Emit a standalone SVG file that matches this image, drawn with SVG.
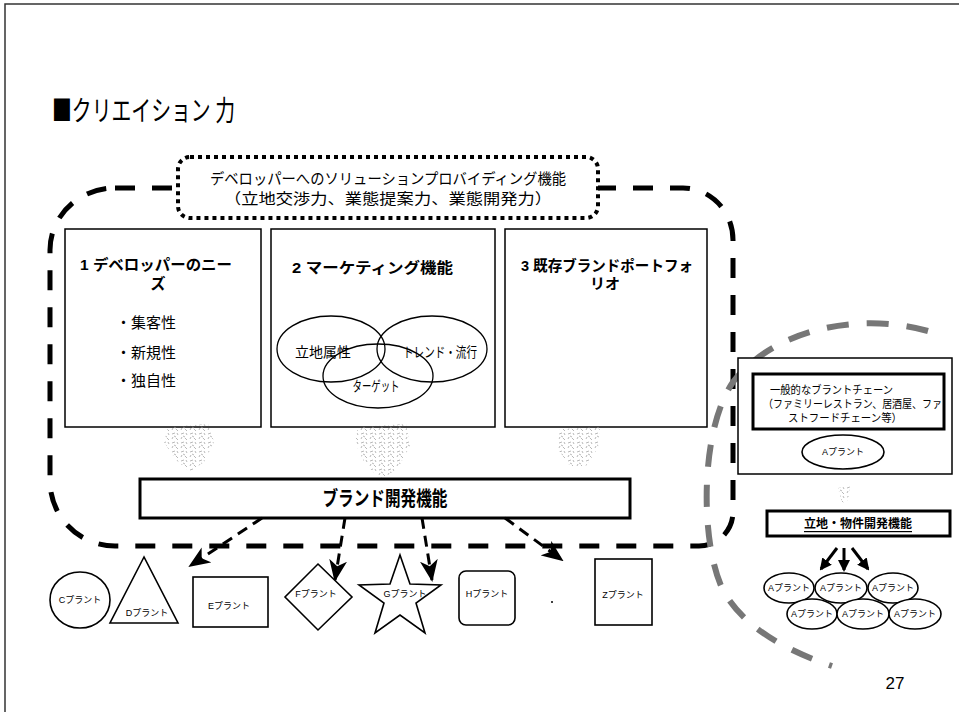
<svg xmlns="http://www.w3.org/2000/svg" width="959" height="723" viewBox="0 0 959 723">
<defs>
<style>
text{font-family:"Liberation Sans","Noto Sans CJK JP",sans-serif;fill:#000;dominant-baseline:central}
.t15{font-size:15px}
.hd{font-size:15px;font-weight:bold}
.sm{font-size:9px;text-anchor:middle}
.box{fill:#fff;stroke:#000;stroke-width:1.5}
.thick{fill:#fff;stroke:#000;stroke-width:3}
.shape{fill:#fff;stroke:#000;stroke-width:1.6}
.venn{fill:none;stroke:#000;stroke-width:1.3}
.dash{fill:none;stroke:#000;stroke-width:3;stroke-dasharray:11 7}
.scr{fill:url(#sp);stroke:none}
</style>
<pattern id="sp" width="9" height="9" patternUnits="userSpaceOnUse">
<path d="M1,2 l3,-1 M5,6 l2,2 M1,7 l1,-2 M6,1 l1,2 M3,4 l2,1" stroke="#999" stroke-width="0.7" fill="none"/>
</pattern>
<marker id="ah" viewBox="0 0 22 18" refX="20" refY="9" markerWidth="22" markerHeight="18" markerUnits="userSpaceOnUse" orient="auto">
<path d="M0,0 L22,9 L0,18 L6,9 Z" fill="#000"/>
</marker>
<marker id="ah2" viewBox="0 0 12 12" refX="10" refY="6" markerWidth="12" markerHeight="12" markerUnits="userSpaceOnUse" orient="auto">
<path d="M0,0 L12,6 L0,12 Z" fill="#000"/>
</marker>
</defs>
<rect width="959" height="723" fill="#fff"/>
<path d="M5,712 V4 H959" fill="none" stroke="#333" stroke-width="1.5"/>

<text x="52" y="109" style="font-size:28px;font-family:'Noto Sans CJK JP',sans-serif" textLength="183" lengthAdjust="spacingAndGlyphs">■クリエイション 力</text>

<g id="outer-group">
<path d="M115,188 H683 A50,52 0 0 1 733,240 V512 A34,34 0 0 1 699,546 H115 A65,65 0 0 1 50,481 V250 A65,62 0 0 1 115,188 Z" fill="none" stroke="#000" stroke-width="5" stroke-dasharray="20 17"/>
</g>

<g id="solution">
<rect x="178" y="157" width="420" height="61" rx="12" fill="#fff" stroke="#000" stroke-width="4" stroke-dasharray="4 4"/>
<text x="388" y="178" class="t15" text-anchor="middle" textLength="356" lengthAdjust="spacingAndGlyphs">デベロッパーへのソリューションプロバイディング機能</text>
<text x="388" y="198" class="t15" text-anchor="middle" textLength="328" lengthAdjust="spacingAndGlyphs">（立地交渉力、業態提案力、業態開発力）</text>
</g>

<g id="needs">
<rect x="65" y="229" width="196" height="198" class="box"/>
<text x="80" y="264" class="hd" textLength="152" lengthAdjust="spacingAndGlyphs">1  デベロッパーのニー</text>
<text x="158" y="283" class="hd" text-anchor="middle">ズ</text>
<text x="116" y="322" class="t15">・集客性</text>
<text x="116" y="352" class="t15">・新規性</text>
<text x="116" y="380" class="t15">・独自性</text>
</g>

<g id="marketing">
<rect x="271" y="229" width="224" height="198" class="box"/>
<text x="292" y="267" class="hd" textLength="161" lengthAdjust="spacingAndGlyphs">2  マーケティング機能</text>
<ellipse cx="331" cy="349" rx="54" ry="33" class="venn"/>
<ellipse cx="432" cy="349" rx="55" ry="33" class="venn"/>
<ellipse cx="378" cy="376" rx="55" ry="32" class="venn"/>
<text x="323" y="352" style="font-size:14px" text-anchor="middle">立地属性</text>
<text x="440" y="352" style="font-size:14px" text-anchor="middle" textLength="74" lengthAdjust="spacingAndGlyphs">トレンド・流行</text>
<text x="376" y="386" style="font-size:14px" text-anchor="middle" textLength="47" lengthAdjust="spacingAndGlyphs">ターゲット</text>
</g>

<g id="portfolio">
<rect x="505" y="229" width="202" height="198" class="box"/>
<text x="521" y="265" class="hd" textLength="172" lengthAdjust="spacingAndGlyphs">3  既存ブランドポートフォ</text>
<text x="605" y="283" class="hd" text-anchor="middle">リオ</text>
</g>

<g id="scribbles">
<path d="M168,427 L208,424 L214,442 L204,462 L190,472 L176,460 L164,442 Z" class="scr"/>
<path d="M358,427 L406,424 L410,446 L398,468 L381,480 L364,462 L355,442 Z" class="scr"/>
<path d="M560,429 L600,427 L598,448 L586,466 L570,466 L557,448 Z" class="scr"/>
<path d="M838,488 L850,486 L848,500 L842,503 Z" class="scr"/>
</g>

<g id="brand-dev">
<rect x="140" y="479" width="490" height="39" class="thick"/>
<text x="385" y="499" style="font-size:20px;font-weight:bold" text-anchor="middle" textLength="125" lengthAdjust="spacingAndGlyphs">ブランド開発機能</text>
</g>

<g id="connectors">
<line x1="262" y1="518" x2="190" y2="566" class="dash" marker-end="url(#ah)"/>
<line x1="345" y1="518" x2="335" y2="580" class="dash" marker-end="url(#ah)"/>
<line x1="422" y1="518" x2="432" y2="580" class="dash" marker-end="url(#ah)"/>
<line x1="505" y1="518" x2="562" y2="560" class="dash" marker-end="url(#ah)"/>
<line x1="837" y1="548" x2="821" y2="569" stroke="#000" stroke-width="3" marker-end="url(#ah2)"/>
<line x1="844" y1="548" x2="844" y2="570" stroke="#000" stroke-width="3" marker-end="url(#ah2)"/>
<line x1="852" y1="548" x2="868" y2="569" stroke="#000" stroke-width="3" marker-end="url(#ah2)"/>
</g>

<g id="plant-c"><ellipse cx="80" cy="600" rx="30" ry="28" class="shape"/><text x="80" y="600" class="sm">Cプラント</text></g>
<g id="plant-d"><polygon points="144,557 110,623 178,623" class="shape"/><text x="147" y="613" class="sm">Dプラント</text></g>
<g id="plant-e"><rect x="193" y="577" width="75" height="50" class="shape"/><text x="229" y="606" class="sm">Eプラント</text></g>
<g id="plant-f"><polygon points="318,564 352,597 318,630 285,597" class="shape"/><text x="316" y="594" class="sm">Fプラント</text></g>
<g id="plant-g"><polygon points="400,555 410,584 441,585 416,603 425,633 400,615 375,633 384,603 359,585 390,584" class="shape"/><text x="405" y="594" class="sm">Gプラント</text></g>
<g id="plant-h"><rect x="459" y="571" width="56" height="54" rx="7" class="shape"/><text x="487" y="594" class="sm">Hプラント</text></g>
<circle cx="552" cy="602" r="1" fill="#000"/>
<g id="plant-z"><rect x="595" y="559" width="57" height="66" class="shape"/><text x="623" y="595" class="sm">Zプラント</text></g>

<g id="chain-group">
<path d="M928,331 C860,312 775,328 733,382 C700,430 700,540 722,588 C742,628 790,652 832,666" fill="none" stroke="#777" stroke-width="6" stroke-dasharray="22 18"/>
</g>

<g id="chain">
<rect x="738" y="358" width="214" height="116" class="box"/>
<rect x="753" y="374" width="191" height="55" fill="#fff" stroke="#000" stroke-width="3"/>
<text x="770" y="390" style="font-size:11px" textLength="123" lengthAdjust="spacingAndGlyphs">一般的なブラントチェーン</text>
<text x="763" y="404" style="font-size:11px" textLength="179" lengthAdjust="spacingAndGlyphs">（ファミリーレストラン、居酒屋、ファ</text>
<text x="788" y="418" style="font-size:11px" textLength="114" lengthAdjust="spacingAndGlyphs">ストフードチェーン等）</text>
<ellipse cx="843" cy="452" rx="41" ry="17" class="shape"/>
<text x="843" y="452" class="sm">Aプラント</text>
</g>

<g id="site-dev">
<rect x="767" y="511" width="183" height="25" class="thick"/>
<text x="858" y="524" style="font-size:12px;font-weight:bold;text-decoration:underline" text-anchor="middle">立地・物件開発機能</text>
</g>

<g id="a-plants">
<ellipse cx="789" cy="588" rx="25" ry="15" class="shape"/><text x="789" y="588" class="sm">Aプラント</text>
<ellipse cx="841" cy="588" rx="26" ry="15" class="shape"/><text x="841" y="588" class="sm">Aプラント</text>
<ellipse cx="893" cy="588" rx="25" ry="15" class="shape"/><text x="893" y="588" class="sm">Aプラント</text>
<ellipse cx="812" cy="614" rx="25" ry="15" class="shape"/><text x="812" y="614" class="sm">Aプラント</text>
<ellipse cx="863" cy="614" rx="26" ry="15" class="shape"/><text x="863" y="614" class="sm">Aプラント</text>
<ellipse cx="915" cy="614" rx="26" ry="15" class="shape"/><text x="915" y="614" class="sm">Aプラント</text>
</g>

<text x="895" y="683" style="font-size:17px" text-anchor="middle">27</text>
</svg>
